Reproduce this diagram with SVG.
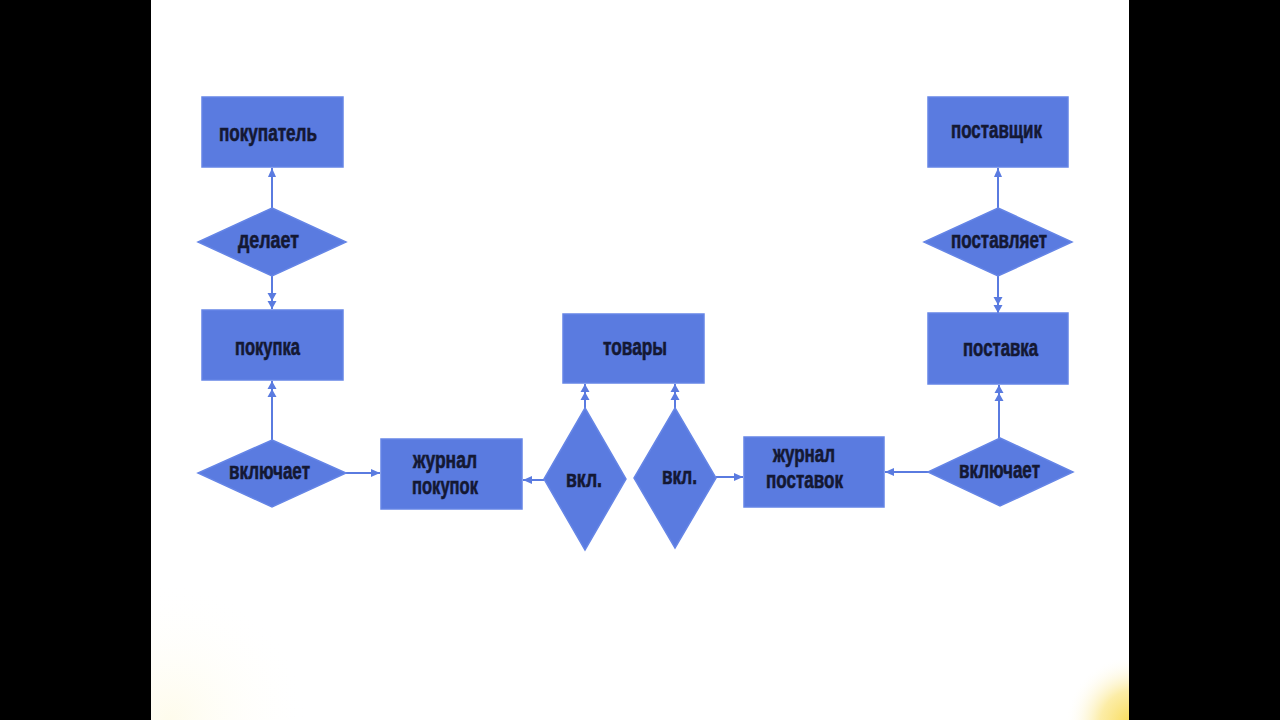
<svg xmlns="http://www.w3.org/2000/svg" width="1280" height="720" viewBox="0 0 1280 720">
<defs>
<style>
.n{fill:#5a7be0;stroke:#6585e6;stroke-width:1.5}
.t{font-family:"Liberation Sans",Arial,sans-serif;font-weight:bold;font-size:23px;fill:#141833;stroke:#141833;stroke-width:0.6}
.c{stroke:#5a7be0;stroke-width:2;fill:none}
</style>
<marker id="a1" markerUnits="userSpaceOnUse" markerWidth="12" markerHeight="12" viewBox="0 0 12 12" refX="10" refY="6" orient="auto">
<path d="M1,2 L10,6 L1,10 Z" fill="#5a7be0"/>
</marker>
<marker id="a2" markerUnits="userSpaceOnUse" markerWidth="20" markerHeight="12" viewBox="0 0 20 12" refX="18" refY="6" orient="auto">
<path d="M2,1.5 L10,6 L2,10.5 Z M10,1.5 L18,6 L10,10.5 Z" fill="#5a7be0"/>
</marker>
<radialGradient id="yg" cx="1135" cy="725" r="70" gradientUnits="userSpaceOnUse">
<stop offset="0" stop-color="#f8d84a"/>
<stop offset="0.5" stop-color="#fbe890" stop-opacity="0.8"/>
<stop offset="1" stop-color="#ffffff" stop-opacity="0"/>
</radialGradient>
<radialGradient id="yg2" cx="170" cy="720" r="140" gradientUnits="userSpaceOnUse">
<stop offset="0" stop-color="#fdf6c8" stop-opacity="0.35"/>
<stop offset="1" stop-color="#ffffff" stop-opacity="0"/>
</radialGradient>
</defs>
<rect x="0" y="0" width="1280" height="720" fill="#000"/>
<rect x="151" y="0" width="978" height="720" fill="#fff"/>
<rect x="151" y="580" width="978" height="140" fill="url(#yg)"/>
<rect x="151" y="580" width="978" height="140" fill="url(#yg2)"/>

<g id="connectors">
<line class="c" x1="272" y1="208" x2="272" y2="168" marker-end="url(#a1)"/>
<line class="c" x1="272" y1="276" x2="272" y2="309" marker-end="url(#a2)"/>
<line class="c" x1="272" y1="440" x2="272" y2="381" marker-end="url(#a2)"/>
<line class="c" x1="346" y1="473" x2="380" y2="473" marker-end="url(#a1)"/>
<line class="c" x1="544" y1="480" x2="523" y2="480" marker-end="url(#a1)"/>
<line class="c" x1="585" y1="408" x2="585" y2="384" marker-end="url(#a2)"/>
<line class="c" x1="675" y1="408" x2="675" y2="384" marker-end="url(#a2)"/>
<line class="c" x1="716" y1="477" x2="743" y2="477" marker-end="url(#a1)"/>
<line class="c" x1="928" y1="472" x2="885" y2="472" marker-end="url(#a1)"/>
<line class="c" x1="999" y1="438" x2="999" y2="385" marker-end="url(#a2)"/>
<line class="c" x1="998" y1="208" x2="998" y2="168" marker-end="url(#a1)"/>
<line class="c" x1="998" y1="276" x2="998" y2="313" marker-end="url(#a2)"/>
</g>

<g id="pokupatel"><rect class="n" x="202" y="97" width="141" height="70"/><text class="t" x="219" y="141" textLength="98" lengthAdjust="spacingAndGlyphs">покупатель</text></g>
<g id="delaet"><polygon class="n" points="272,208 346,242 272,276 198,242"/><text class="t" x="238" y="248" textLength="61" lengthAdjust="spacingAndGlyphs">делает</text></g>
<g id="pokupka"><rect class="n" x="202" y="310" width="141" height="70"/><text class="t" x="235" y="355" textLength="65" lengthAdjust="spacingAndGlyphs">покупка</text></g>
<g id="vkluchaet1"><polygon class="n" points="272,440 346,473 272,507 198,473"/><text class="t" x="229" y="479" textLength="81" lengthAdjust="spacingAndGlyphs">включает</text></g>
<g id="zhurnal_pokupok"><rect class="n" x="381" y="439" width="141" height="70"/><text class="t" x="413" y="468" textLength="64" lengthAdjust="spacingAndGlyphs">журнал</text><text class="t" x="412" y="494" textLength="66" lengthAdjust="spacingAndGlyphs">покупок</text></g>
<g id="vkl1"><polygon class="n" points="585,408 626,479 585,550 544,479"/><text class="t" x="566" y="487" textLength="36" lengthAdjust="spacingAndGlyphs">вкл.</text></g>
<g id="vkl2"><polygon class="n" points="675,408 716,478 675,548 634,478"/><text class="t" x="662" y="484" textLength="35" lengthAdjust="spacingAndGlyphs">вкл.</text></g>
<g id="tovary"><rect class="n" x="563" y="314" width="141" height="69"/><text class="t" x="603" y="355" textLength="64" lengthAdjust="spacingAndGlyphs">товары</text></g>
<g id="zhurnal_postavok"><rect class="n" x="744" y="437" width="140" height="70"/><text class="t" x="773" y="462" textLength="62" lengthAdjust="spacingAndGlyphs">журнал</text><text class="t" x="766" y="488" textLength="77" lengthAdjust="spacingAndGlyphs">поставок</text></g>
<g id="vkluchaet2"><polygon class="n" points="1000,438 1073,472 1000,506 928,472"/><text class="t" x="959" y="478" textLength="81" lengthAdjust="spacingAndGlyphs">включает</text></g>
<g id="postavka"><rect class="n" x="928" y="313" width="140" height="71"/><text class="t" x="963" y="356" textLength="75" lengthAdjust="spacingAndGlyphs">поставка</text></g>
<g id="postavlyaet"><polygon class="n" points="998,208 1072,242 998,276 924,242"/><text class="t" x="951" y="248" textLength="96" lengthAdjust="spacingAndGlyphs">поставляет</text></g>
<g id="postavshik"><rect class="n" x="928" y="97" width="140" height="70"/><text class="t" x="951" y="138" textLength="91" lengthAdjust="spacingAndGlyphs">поставщик</text></g>
</svg>
